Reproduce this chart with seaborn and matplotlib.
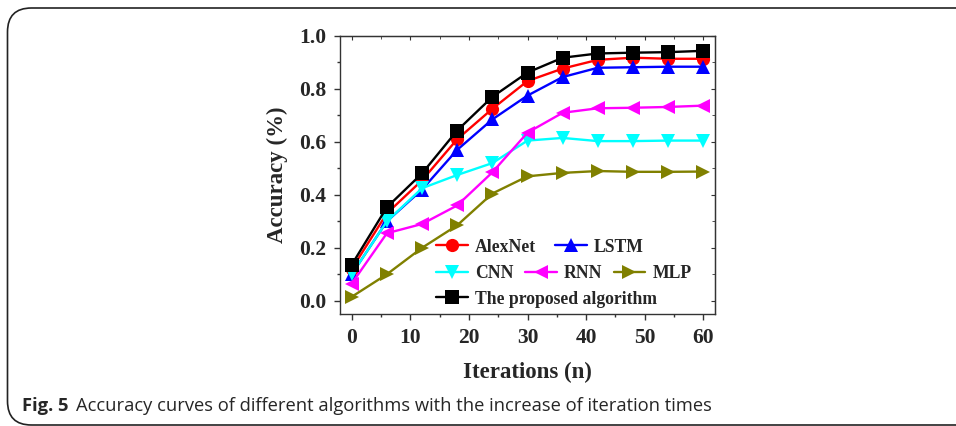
import numpy as np
import pandas as pd
import matplotlib
matplotlib.use('Agg')
import matplotlib.pyplot as plt
from matplotlib.lines import Line2D
from matplotlib.patches import FancyBboxPatch
from matplotlib.ticker import MultipleLocator
import seaborn as sns

# data
iterations = [0, 6, 12, 18, 24, 30, 36, 42, 48, 54, 60]
alexnet = [0.12, 0.33, 0.455, 0.61, 0.725, 0.83, 0.877, 0.91, 0.918, 0.914, 0.914]
lstm = [0.10, 0.30, 0.42, 0.57, 0.685, 0.775, 0.845, 0.88, 0.882, 0.884, 0.884]
cnn = [0.10, 0.30, 0.425, 0.475, 0.52, 0.605, 0.615, 0.603, 0.603, 0.605, 0.605]
rnn = [0.065, 0.255, 0.29, 0.36, 0.485, 0.635, 0.71, 0.727, 0.729, 0.732, 0.737]
mlp = [0.015, 0.10, 0.20, 0.285, 0.405, 0.47, 0.483, 0.49, 0.487, 0.487, 0.488]
proposed = [0.136, 0.353, 0.481, 0.643, 0.77, 0.862, 0.918, 0.934, 0.937, 0.939, 0.944]

names = ['AlexNet', 'LSTM', 'CNN', 'RNN', 'MLP', 'The proposed algorithm']
colors = ['#ff0000', '#0000ff', '#00ffff', '#ff00ff', '#808000', '#000000']
markers = ['o', '^', 'v', '<', '>', 's']

rows = []
for name, vals in zip(names, [alexnet, lstm, cnn, rnn, mlp, proposed]):
    for it, v in zip(iterations, vals):
        rows.append({'Iterations': it, 'Accuracy': v, 'Algorithm': name})
df = pd.DataFrame(rows)

sns.set_style('ticks')
plt.rcParams['font.family'] = ['Liberation Serif', 'DejaVu Serif']
plt.rcParams['font.weight'] = 'bold'

fig = plt.figure(figsize=(9.56, 4.26), dpi=100)
ax = fig.add_axes([340/956, 1 - 314/426, 375/956, 278/426])

sns.lineplot(data=df, x='Iterations', y='Accuracy', hue='Algorithm', style='Algorithm',
             hue_order=names, style_order=names, palette=dict(zip(names, colors)),
             markers=dict(zip(names, markers)), dashes=False, markersize=9.5,
             markeredgewidth=0, linewidth=1.7, legend=False, ax=ax)

ax.set_xlim(-2, 62)
ax.set_ylim(-0.05, 1.0)
ax.xaxis.set_major_locator(MultipleLocator(10))
ax.xaxis.set_minor_locator(MultipleLocator(5))
ax.yaxis.set_major_locator(MultipleLocator(0.2))
ax.yaxis.set_minor_locator(MultipleLocator(0.1))
ax.yaxis.set_major_formatter(matplotlib.ticker.FormatStrFormatter('%.1f'))
ax.tick_params(which='major', direction='out', length=4, width=1, labelsize=15.5, pad=6, color='#333333')
ax.tick_params(which='minor', direction='out', length=2.5, width=1, color='#333333')
for sp in ax.spines.values():
    sp.set_visible(True)
    sp.set_color('#333333')
    sp.set_linewidth(1)

# inward ticks on top and right
sx = ax.secondary_xaxis('top')
sx.xaxis.set_major_locator(MultipleLocator(10))
sx.xaxis.set_minor_locator(MultipleLocator(5))
sx.tick_params(which='major', direction='in', length=3, labeltop=False, color='#333333')
sx.tick_params(which='minor', direction='in', length=2, color='#333333')
sy = ax.secondary_yaxis('right')
sy.yaxis.set_major_locator(MultipleLocator(0.2))
sy.yaxis.set_minor_locator(MultipleLocator(0.1))
sy.tick_params(which='major', direction='in', length=3, labelright=False, color='#333333')
sy.tick_params(which='minor', direction='in', length=2, color='#333333')

ax.set_xlabel('Iterations (n)', fontsize=16.5, fontweight='bold', labelpad=10)
ax.set_ylabel('Accuracy (%)', fontsize=16.5, fontweight='bold', labelpad=8)

def handle(i):
    return Line2D([], [], color=colors[i], marker=markers[i], markersize=9.5,
                  markeredgewidth=0, linewidth=1.7)

legend_rows = [([0, 1], 247, 1.1), ([2, 3, 4], 274, 0.65), ([5], 299, 0.5)]
for idx, ypix, cs in legend_rows:
    leg = fig.legend([handle(i) for i in idx], [names[i] for i in idx],
                     loc='center left', bbox_to_anchor=(436/956, 1 - ypix/426),
                     ncol=len(idx), frameon=False, borderpad=0, borderaxespad=0,
                     handlelength=1.8, handletextpad=0.4, columnspacing=cs,
                     prop={'family': 'Liberation Serif', 'weight': 'bold', 'size': 12.7})

# rounded frame and caption
frame = FancyBboxPatch((7.5/956, 1 - 425/426), 1.2, 417/426,
                       boxstyle='round,pad=0,rounding_size=0.025',
                       transform=fig.transFigure, fill=False,
                       edgecolor='#222222', linewidth=1.2, mutation_aspect=956/426)
fig.patches.append(frame)
fig.text(22/956, 1 - 406/426, 'Fig. 5', fontsize=13.2, fontweight='bold',
         family='Open Sans', va='center', ha='left')
fig.text(76/956, 1 - 406/426, 'Accuracy curves of different algorithms with the increase of iteration times',
         fontsize=13.2, fontweight='normal', family='Open Sans', va='center', ha='left')

fig.savefig('out.png', dpi=100)
